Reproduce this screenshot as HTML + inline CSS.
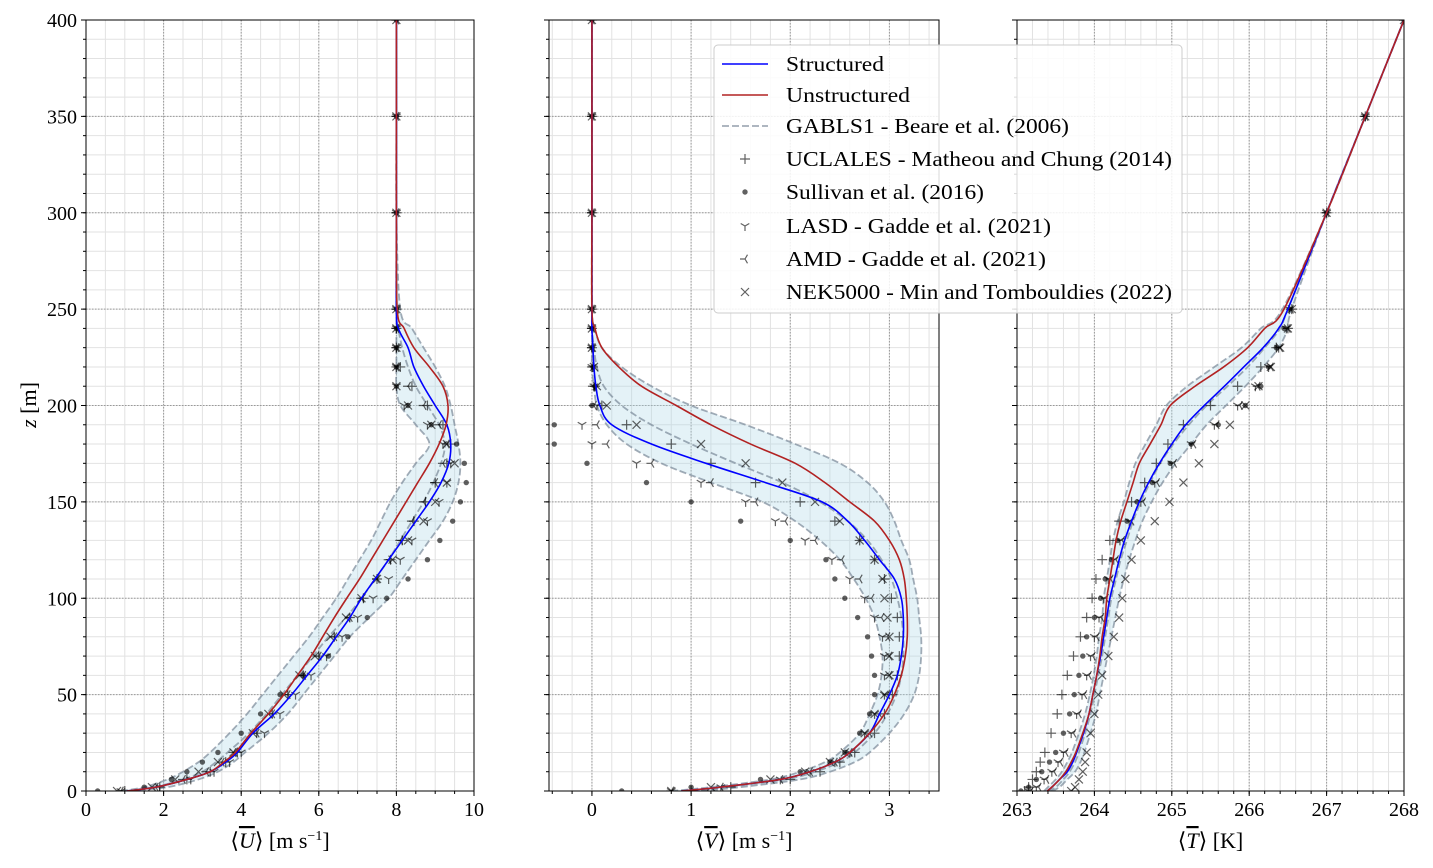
<!DOCTYPE html>
<html><head><meta charset="utf-8">
<style>
html,body{margin:0;padding:0;background:#fff;}
svg{display:block;font-family:"Liberation Serif",serif;}
</style></head>
<body>
<svg id="chart" width="1433" height="868" viewBox="0 0 1433 868" xmlns="http://www.w3.org/2000/svg"></svg>
<script>
// heights (m)
const heights=[0,2,6,10,15,20,30,40,50,60,70,80,90,100,110,120,130,140,150,160,170,180,190,200,210,220,230,240,250,300,350,400];
// U panel
const uStructured=[1.05,1.8,2.6,3.2,3.6,3.9,4.3,4.85,5.3,5.7,6.1,6.45,6.8,7.1,7.45,7.8,8.15,8.5,8.85,9.15,9.35,9.4,9.3,9.0,8.7,8.45,8.3,8.05,8.0,8.0,8.0,8.0];
const uUnstructured=[1.05,1.8,2.6,3.2,3.55,3.85,4.25,4.7,5.1,5.45,5.8,6.1,6.4,6.72,7.05,7.35,7.65,7.95,8.25,8.55,8.85,9.1,9.28,9.33,9.2,8.85,8.45,8.2,8.02,8.0,8.0,8.0];
const uGablsLeft=[0.9,1.5,2.1,2.5,2.9,3.2,3.7,4.15,4.55,4.95,5.35,5.75,6.1,6.45,6.75,7.05,7.35,7.6,7.85,8.15,8.5,8.85,8.5,8.1,8.0,8.0,8.0,8.0,8.0,8.0,8.0,8.0];
const uGablsMid=[1.0,1.75,2.5,3.0,3.35,3.65,4.2,4.65,5.05,5.45,5.85,6.25,6.7,7.1,7.45,7.8,8.1,8.4,8.7,8.95,9.15,9.25,9.1,8.8,8.5,8.3,8.15,8.05,8.0,8.0,8.0,8.0];
const uGablsRight=[1.1,2.1,2.9,3.4,3.8,4.1,4.7,5.2,5.6,6.0,6.4,6.8,7.3,7.8,8.15,8.5,8.85,9.2,9.45,9.6,9.65,9.6,9.5,9.4,9.25,9.0,8.7,8.4,8.1,8.0,8.0,8.0];
const uUclales=[1.0,1.9,2.6,3.2,3.6,3.9,4.4,4.8,5.2,5.6,6.0,6.4,6.8,7.15,7.5,7.85,8.15,8.45,8.75,9.0,9.3,9.4,9.2,8.8,8.4,8.1,8.0,8.0,8.0,8.0,8.0,8.0];
const uSullivan=[0.3,1.5,2.2,2.6,3.0,3.4,4.0,4.5,5.0,5.6,6.25,6.75,7.25,7.75,8.3,8.8,9.12,9.45,9.65,9.8,9.75,9.55,8.9,8.3,8.0,8.0,8.0,8.0,8.0,8.0,8.0,8.0];
const uLasd=[0.9,1.9,2.7,3.3,3.7,4.0,4.6,5.0,5.4,5.8,6.2,6.6,7.0,7.4,7.8,8.1,8.4,8.8,9.1,9.3,9.4,9.2,8.8,8.2,8.0,8.0,8.0,8.0,8.0,8.0,8.0,8.0];
const uAmd=[0.9,1.8,2.5,3.1,3.5,3.8,4.4,4.8,5.2,5.6,6.0,6.4,6.8,7.1,7.5,7.8,8.1,8.4,8.7,9.0,9.2,9.3,9.1,8.7,8.3,8.0,8.0,8.0,8.0,8.0,8.0,8.0];
const uNek=[0.8,1.7,2.3,2.9,3.4,3.8,4.3,4.7,5.1,5.5,5.9,6.3,6.7,7.1,7.5,7.9,8.3,8.7,9.0,9.3,9.5,9.3,8.9,8.3,8.0,8.0,8.0,8.0,8.0,8.0,8.0,8.0];
// V panel
const vStructured=[0.9,1.3,1.9,2.2,2.45,2.6,2.8,2.9,3.0,3.08,3.12,3.14,3.14,3.12,3.05,2.9,2.75,2.58,2.32,1.75,1.15,0.6,0.2,0.08,0.04,0.02,0.01,0,0,0,0,0];
const vUnstructured=[0.9,1.3,1.9,2.2,2.45,2.6,2.8,2.95,3.05,3.12,3.16,3.18,3.18,3.17,3.15,3.1,3.0,2.85,2.6,2.35,2.05,1.6,1.2,0.85,0.5,0.27,0.1,0.03,0,0,0,0];
const vGablsLeft=[0.8,1.2,1.8,2.1,2.35,2.5,2.7,2.8,2.88,2.92,2.93,2.9,2.85,2.76,2.64,2.5,2.3,2.05,1.72,1.2,0.7,0.35,0.15,0.05,0.02,0,0,0,0,0,0,0];
const vGablsMid=[1.0,1.35,1.95,2.25,2.5,2.65,2.85,2.98,3.07,3.12,3.14,3.14,3.12,3.08,3.02,2.92,2.78,2.58,2.3,1.92,1.45,1.0,0.6,0.3,0.12,0.05,0.02,0,0,0,0,0];
const vGablsRight=[1.1,1.5,2.1,2.4,2.65,2.8,3.0,3.15,3.25,3.3,3.32,3.32,3.3,3.28,3.24,3.2,3.12,3.05,2.95,2.78,2.5,2.05,1.55,1.0,0.6,0.3,0.1,0.03,0,0,0,0];
const vUclales=[1.0,1.4,2.0,2.3,2.5,2.65,2.85,2.95,3.03,3.08,3.1,3.1,3.08,3.02,2.95,2.85,2.7,2.45,2.1,1.65,1.2,0.8,0.35,0.1,0.03,0.01,0,0,0,0,0,0];
const vSullivan=[0.3,1.0,1.7,2.1,2.4,2.55,2.7,2.8,2.85,2.85,2.82,2.78,2.68,2.55,2.45,2.36,2.0,1.5,1.0,0.55,-0.05,-0.38,-0.38,0.0,0.03,0.01,0,0,0,0,0,0];
const vLasd=[0.8,1.3,1.9,2.2,2.45,2.6,2.75,2.85,2.95,2.95,2.95,2.93,2.85,2.75,2.6,2.42,2.15,1.85,1.55,1.1,0.45,0.0,-0.1,0.05,0.02,0,0,0,0,0,0,0];
const vAmd=[0.8,1.3,1.9,2.2,2.45,2.6,2.8,2.9,2.98,3.0,3.0,2.98,2.92,2.82,2.7,2.52,2.25,1.95,1.65,1.2,0.6,0.15,0.05,0.02,0.01,0,0,0,0,0,0,0];
const vNek=[0.8,1.2,1.8,2.15,2.4,2.55,2.75,2.85,2.95,3.0,3.0,3.0,2.98,2.95,2.93,2.85,2.7,2.5,2.25,1.92,1.55,1.1,0.45,0.15,0.05,0.02,0,0,0,0,0,0];
// T panel
const tStructured=[263.39,263.45,263.55,263.65,263.72,263.77,263.86,263.93,263.98,264.03,264.08,264.12,264.16,264.2,264.26,264.32,264.39,264.48,264.58,264.7,264.84,265.0,265.18,265.42,265.68,265.93,266.18,266.38,266.5,267.0,267.5,268.0];
const tUnstructured=[263.39,263.45,263.55,263.63,263.7,263.76,263.85,263.93,263.98,264.03,264.07,264.1,264.14,264.16,264.2,264.24,264.28,264.34,264.42,264.5,264.58,264.72,264.86,264.98,265.3,265.67,265.98,266.2,266.45,267.0,267.5,268.0];
const tGablsLeft=[263.35,263.4,263.5,263.58,263.65,263.71,263.8,263.88,263.94,263.99,264.03,264.06,264.1,264.12,264.16,264.2,264.24,264.3,264.38,264.45,264.53,264.66,264.8,264.93,265.2,265.55,265.9,266.15,266.43,267.0,267.5,268.0];
const tGablsMid=[263.4,263.5,263.6,263.68,263.75,263.8,263.88,263.95,264.0,264.05,264.1,264.14,264.18,264.22,264.28,264.34,264.42,264.5,264.6,264.72,264.85,265.02,265.22,265.45,265.72,265.98,266.2,266.4,266.5,267.0,267.5,268.0];
const tGablsRight=[263.45,263.55,263.65,263.75,263.82,263.87,263.95,264.02,264.07,264.12,264.17,264.22,264.27,264.32,264.38,264.45,264.53,264.62,264.74,264.88,265.05,265.25,265.45,265.7,265.95,266.18,266.38,266.5,266.55,267.0,267.5,268.0];
const tUclales=[263.1,263.15,263.2,263.25,263.3,263.36,263.44,263.52,263.58,263.65,263.73,263.82,263.9,263.97,264.02,264.1,264.2,264.32,264.48,264.65,264.8,264.95,265.15,265.5,265.85,266.15,266.35,266.5,266.55,267.0,267.5,268.0];
const tSullivan=[263.05,263.15,263.25,263.32,263.42,263.5,263.6,263.68,263.74,263.8,263.85,263.9,264.0,264.08,264.14,264.22,264.3,264.42,264.55,264.75,264.98,265.25,265.6,265.95,266.15,266.25,266.35,266.45,266.52,267.0,267.5,268.0];
const tLasd=[263.15,263.25,263.35,263.45,263.53,263.6,263.7,263.77,263.84,263.9,263.95,264.0,264.06,264.12,264.18,264.25,264.33,264.45,264.6,264.78,265.0,265.25,265.55,265.85,266.08,266.25,266.38,266.48,266.52,267.0,267.5,268.0];
const tAmd=[263.18,263.28,263.38,263.48,263.56,263.63,263.73,263.8,263.87,263.93,263.98,264.03,264.09,264.15,264.21,264.28,264.36,264.48,264.63,264.81,265.03,265.28,265.58,265.88,266.11,266.28,266.4,266.5,266.54,267.0,267.5,268.0];
const tNek=[263.7,263.75,263.8,263.85,263.88,263.9,263.95,264.0,264.05,264.1,264.18,264.25,264.32,264.36,264.4,264.48,264.6,264.78,264.97,265.15,265.35,265.55,265.75,265.95,266.12,266.28,266.4,266.5,266.55,267.0,267.5,268.0];
const yTicks=[0,50,100,150,200,250,300,350,400];
const uTicks=[0,2,4,6,8,10];
const vTicks=[0,1,2,3];
const tTicks=[263,264,265,266,267,268];

const NS='http://www.w3.org/2000/svg';
const svg=document.getElementById('chart');
function mk(tag,attrs,parent){const e=document.createElementNS(NS,tag);for(const k in attrs)e.setAttribute(k,attrs[k]);(parent||svg).appendChild(e);return e;}
const Y0=791,Y1=20;
function yS(z){return Y0-z/400*(Y0-Y1);}
function smooth(pts){
  let d='M'+pts[0][0].toFixed(2)+' '+pts[0][1].toFixed(2);
  for(let i=0;i<pts.length-1;i++){
    const p0=pts[Math.max(i-1,0)],p1=pts[i],p2=pts[i+1],p3=pts[Math.min(i+2,pts.length-1)];
    const c1=[p1[0]+(p2[0]-p0[0])/6,p1[1]+(p2[1]-p0[1])/6];
    const c2=[p2[0]-(p3[0]-p1[0])/6,p2[1]-(p3[1]-p1[1])/6];
    d+='C'+c1[0].toFixed(2)+' '+c1[1].toFixed(2)+' '+c2[0].toFixed(2)+' '+c2[1].toFixed(2)+' '+p2[0].toFixed(2)+' '+p2[1].toFixed(2);
  }
  return d;
}
const panels=[
 {name:'u',x0:86,x1:474,min:0,max:10,ticks:uTicks,minor:0.5,
  s:uStructured,un:uUnstructured,gl:uGablsLeft,gm:uGablsMid,gr:uGablsRight,
  m:[uUclales,uSullivan,uLasd,uAmd,uNek],label:'U',unit:'[m s<tspan dy="-8" font-size="14">−1</tspan><tspan dy="8">]</tspan>',yl:true},
 {name:'v',x0:549,x1:939,min:-0.433,max:3.5,ticks:vTicks,minor:0.2,
  s:vStructured,un:vUnstructured,gl:vGablsLeft,gm:vGablsMid,gr:vGablsRight,
  m:[vUclales,vSullivan,vLasd,vAmd,vNek],label:'V',unit:'[m s<tspan dy="-8" font-size="14">−1</tspan><tspan dy="8">]</tspan>',yl:false},
 {name:'t',x0:1017,x1:1404,min:263,max:268,ticks:tTicks,minor:0.2,
  s:tStructured,un:tUnstructured,gl:tGablsLeft,gm:tGablsMid,gr:tGablsRight,
  m:[tUclales,tSullivan,tLasd,tAmd,tNek],label:'T',unit:'[K]',yl:false}
];
const markerNames=['uclales','sullivan','lasd','amd','nek5000'];
const mcol='rgba(0,0,0,0.62)';
function marker(g,type,x,y){
  const s=5;
  if(type===0)return mk('path',{d:`M${x-s} ${y}H${x+s}M${x} ${y-s}V${y+s}`,stroke:mcol,'stroke-width':1.2,fill:'none'},g);
  if(type===1)return mk('circle',{cx:x,cy:y,r:2.7,fill:mcol},g);
  if(type===2)return mk('path',{d:`M${x} ${y}V${y+s}M${x} ${y}L${x-4.3} ${y-2.5}M${x} ${y}L${x+4.3} ${y-2.5}`,stroke:mcol,'stroke-width':1.2,fill:'none'},g);
  if(type===3)return mk('path',{d:`M${x} ${y}H${x-s}M${x} ${y}L${x+2.5} ${y-4.3}M${x} ${y}L${x+2.5} ${y+4.3}`,stroke:mcol,'stroke-width':1.2,fill:'none'},g);
  return mk('path',{d:`M${x-4} ${y-4}L${x+4} ${y+4}M${x-4} ${y+4}L${x+4} ${y-4}`,stroke:mcol,'stroke-width':1.2,fill:'none'},g);
}
panels.forEach(p=>{
  const xS=v=>p.x0+(v-p.min)/(p.max-p.min)*(p.x1-p.x0);
  const g=mk('g',{});
  
  
  const clipId='clip-'+p.name;
  const cp=mk('clipPath',{id:clipId},g);mk('rect',{x:p.x0,y:Y1,width:p.x1-p.x0,height:Y0-Y1},cp);
  const grid=mk('g',{},g);
  
  
  for(let v=Math.ceil(p.min/p.minor)*p.minor;v<=p.max+1e-9;v+=p.minor){const x=xS(v);mk('line',{x1:x,x2:x,y1:Y1,y2:Y0,stroke:'#e2e2e2','stroke-width':1},grid);}
  for(let z=0;z<=400;z+=10){mk('line',{x1:p.x0,x2:p.x1,y1:yS(z),y2:yS(z),stroke:'#e2e2e2','stroke-width':1},grid);}
  p.ticks.forEach(v=>{const x=xS(v);mk('line',{x1:x,x2:x,y1:Y1,y2:Y0,stroke:'#999','stroke-width':1,'stroke-dasharray':'1.5,1.5'},grid);});
  yTicks.forEach(z=>{mk('line',{x1:p.x0,x2:p.x1,y1:yS(z),y2:yS(z),stroke:'#999','stroke-width':1,'stroke-dasharray':'1.5,1.5'},grid);});
  const plot=mk('g',{'clip-path':`url(#${clipId})`},g);
  const n=heights.length;
  const lp=p.gl.slice(0,n).map((v,i)=>[xS(v),yS(heights[i])]);
  const rp=p.gr.slice(0,n).map((v,i)=>[xS(v),yS(heights[i])]).reverse();
  const bd=smooth(lp)+'L'+smooth(rp).slice(1)+'Z';
  const band=mk('path',{d:bd,fill:'rgba(173,216,230,0.33)',stroke:'none'},plot);
  
  
  function line(arr,attrs,nm){const pts=arr.slice(0,n).map((v,i)=>[xS(v),yS(heights[i])]);const e=mk('path',Object.assign({d:smooth(pts),fill:'none'},attrs),plot);return e;}
  [p.gl,p.gm,p.gr].forEach((a,k)=>line(a,{stroke:'rgba(112,128,144,0.65)','stroke-width':1.8,'stroke-dasharray':'7,3'},'gabls-line-'+p.name+'-'+k));
  p.m.forEach((arr,t)=>{
    const mg=mk('g',{},plot);
    
    
    arr.slice(0,n).forEach((v,i)=>marker(mg,t,xS(v),yS(heights[i])));
  });
  line(p.s,{stroke:'#0000ff','stroke-width':1.6},'structured-line-'+p.name);
  line(p.un,{stroke:'#b22222','stroke-width':1.6},'unstructured-line-'+p.name);
  const fr=mk('rect',{x:p.x0,y:Y1,width:p.x1-p.x0,height:Y0-Y1,fill:'none',stroke:'#000','stroke-width':1},g);
  
  
  p.ticks.forEach(v=>{const x=xS(v);mk('line',{x1:x,x2:x,y1:Y0,y2:Y0+5,stroke:'#000'},g);
    const t=mk('text',{x:x,y:Y0+25,'text-anchor':'middle','font-size':20},g);t.textContent=v;
    });
  for(let v=Math.ceil(p.min/p.minor)*p.minor;v<=p.max+1e-9;v+=p.minor){const x=xS(v);mk('line',{x1:x,x2:x,y1:Y0,y2:Y0+3,stroke:'#000'},g);}
  for(let z=0;z<=400;z+=10){mk('line',{x1:p.x0-3,x2:p.x0,y1:yS(z),y2:yS(z),stroke:'#000'},g);}
  yTicks.forEach(z=>{mk('line',{x1:p.x0-5,x2:p.x0,y1:yS(z),y2:yS(z),stroke:'#000'},g);
    if(p.yl){const t=mk('text',{x:p.x0-9,y:yS(z)+7,'text-anchor':'end','font-size':20},g);t.textContent=z;
    }});
  const cx=(p.x0+p.x1)/2;
  const xl=mk('text',{x:cx,y:848,'text-anchor':'middle','font-size':22},g);
  xl.innerHTML='⟨<tspan text-decoration="overline" font-style="italic">'+p.label+'</tspan>⟩ '+p.unit;
  
});
const yt=mk('text',{x:0,y:0,'text-anchor':'middle','font-size':22,transform:'translate(36,405) rotate(-90)'});
yt.innerHTML='<tspan font-style="italic">z</tspan> [m]';


const lg=mk('g',{});


mk('rect',{x:714,y:45,width:468,height:268,rx:4,fill:'rgba(255,255,255,0.85)',stroke:'#ccc'},lg);
const entries=['Structured','Unstructured','GABLS1 - Beare et al. (2006)','UCLALES - Matheou and Chung (2014)','Sullivan et al. (2016)','LASD - Gadde et al. (2021)','AMD - Gadde et al. (2021)','NEK5000 - Min and Tombouldies (2022)'];
const ends=[884,910,1069,1172,984,1051,1046,1172];
const ly=[64,95,126,159,192,226,259,292];
entries.forEach((txt,i)=>{
  const eg=mk('g',{},lg);
  
  
  const y=ly[i];
  if(i===0)mk('line',{x1:722,x2:768,y1:y,y2:y,stroke:'#0000ff','stroke-width':1.6},eg);
  else if(i===1)mk('line',{x1:722,x2:768,y1:y,y2:y,stroke:'#b22222','stroke-width':1.6},eg);
  else if(i===2)mk('line',{x1:722,x2:768,y1:y,y2:y,stroke:'rgba(112,128,144,0.65)','stroke-width':1.8,'stroke-dasharray':'7,3'},eg);
  else marker(eg,i-3,745,y);
  const t=mk('text',{x:786,y:y+7,'font-size':21,textLength:ends[i]-786,lengthAdjust:'spacingAndGlyphs'},eg);t.textContent=txt;
});
</script>
</body></html>
